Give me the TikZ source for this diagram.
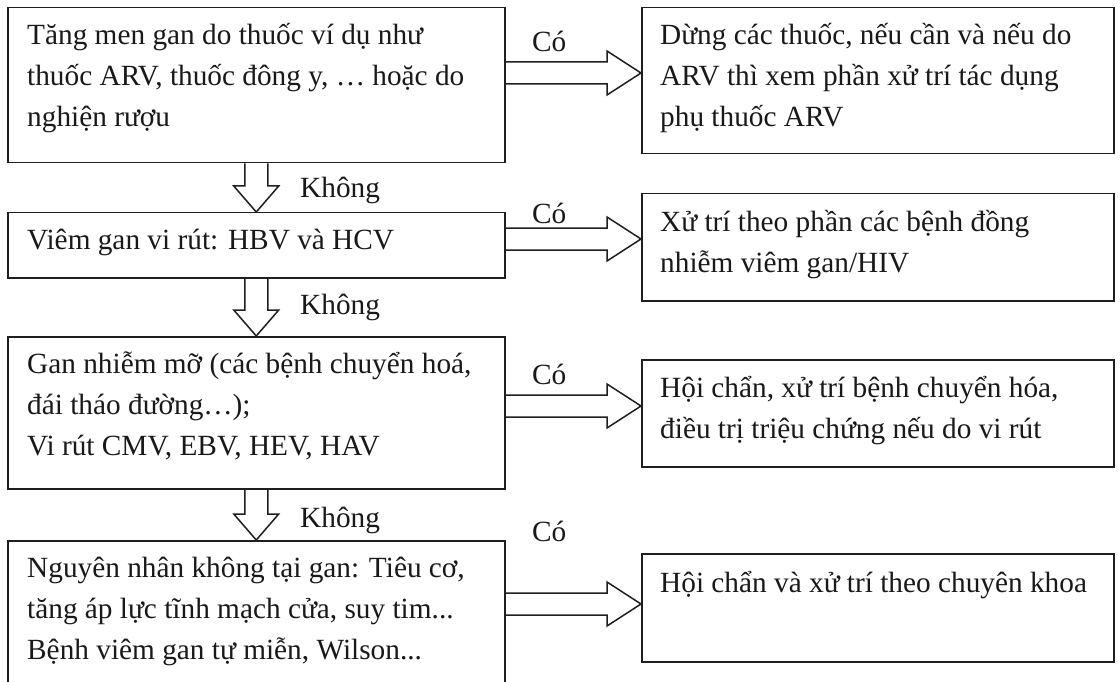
\documentclass[tikz,border=0pt]{standalone}
\usepackage{fontspec}
\setmainfont{Liberation Serif}
\usetikzlibrary{calc}
\newcommand\harr[2]{\draw[blk] ($(#1)+(0,-11)$) -- ($(#2)+(-34,-11)$) -- ($(#2)+(-34,-22)$) -- (#2) -- ($(#2)+(-34,22)$) -- ($(#2)+(-34,11)$) -- ($(#1)+(0,11)$);}
\newcommand\varr[2]{\draw[blk] ($(#1)+(-11.5,0)$) -- ($(#2)+(-11.5,-26)$) -- ($(#2)+(-22.5,-26)$) -- (#2) -- ($(#2)+(22.5,-26)$) -- ($(#2)+(11.5,-26)$) -- ($(#1)+(11.5,0)$);}
\newcommand\lines[1]{\parbox[t]{480pt}{#1}}
\begin{document}
\begin{tikzpicture}[x=1pt,y=-1pt,
  box/.style={draw=black!88, line width=1.5pt, inner sep=0pt, anchor=north west},
  txt/.style={inner sep=0pt, anchor=base west, font=\fontsize{29.3}{41}\selectfont, text=black!90},
  lbl/.style={inner sep=0pt, anchor=base west, font=\fontsize{29.3}{41}\selectfont, text=black!90},
  blk/.style={draw=black!88, line width=1.5pt, line join=miter}]
\useasboundingbox[fill=white] (0,0) rectangle (1120,682);
\clip (0,0) rectangle (1120,682);
% left boxes
\node[box, minimum width=497pt, minimum height=155pt] (b1) at (7,7) {};
\node[box, minimum width=497pt, minimum height=65pt] (b2) at (7,212) {};
\node[box, minimum width=497pt, minimum height=152pt] (b3) at (7,336) {};
\node[box, minimum width=497pt, minimum height=175pt] (b4) at (7,540) {};
% right boxes
\node[box, minimum width=472pt, minimum height=146pt] (r1) at (641,7) {};
\node[box, minimum width=472pt, minimum height=107pt] (r2) at (641,193) {};
\node[box, minimum width=472pt, minimum height=107pt] (r3) at (641,359) {};
\node[box, minimum width=472pt, minimum height=108pt] (r4) at (641,553) {};
% texts
\node[txt] (t1) at (27,45) {\lines{Tăng men gan do thuốc ví dụ như\\thuốc ARV, thuốc đông y, … hoặc do\\nghiện rượu}};
\node[txt] (t2) at (27,249) {\lines{Viêm gan vi rút: HBV và HCV}};
\node[txt] (t3) at (27,373) {\lines{Gan nhiễm mỡ (các bệnh chuyển hoá,\\đái tháo đường…);\\Vi rút CMV, EBV, HEV, HAV}};
\node[txt] (t4) at (27,577) {\lines{Nguyên nhân không tại gan: Tiêu cơ,\\tăng áp lực tĩnh mạch cửa, suy tim...\\Bệnh viêm gan tự miễn, Wilson...}};
\node[txt] (u1) at (660,45) {\lines{Dừng các thuốc, nếu cần và nếu do\\ARV thì xem phần xử trí tác dụng\\phụ thuốc ARV}};
\node[txt] (u2) at (660,232) {\lines{Xử trí theo phần các bệnh đồng\\nhiễm viêm gan/HIV}};
\node[txt] (u3) at (660,397) {\lines{Hội chẩn, xử trí bệnh chuyển hóa,\\điều trị triệu chứng nếu do vi rút}};
\node[txt] (u4) at (660,592) {\lines{Hội chẩn và xử trí theo chuyên khoa}};
% arrow end points
\coordinate (h1s) at (b1.east |- 0,73);  \coordinate (h1t) at (r1.west |- 0,73);
\coordinate (h2s) at (b2.east |- 0,239); \coordinate (h2t) at (r2.west |- 0,239);
\coordinate (h3s) at (b3.east |- 0,406); \coordinate (h3t) at (r3.west |- 0,406);
\coordinate (h4s) at (b4.east |- 0,604); \coordinate (h4t) at (r4.west |- 0,604);
\harr{h1s}{h1t}
\harr{h2s}{h2t}
\harr{h3s}{h3t}
\harr{h4s}{h4t}
\varr{b1.south}{b2.north}
\varr{b2.south}{b3.north}
\varr{b3.south}{b4.north}
% labels
\node[lbl] (c1) at (532,52) {Có};
\node[lbl] (c2) at (532,224) {Có};
\node[lbl] (c3) at (532,384) {Có};
\node[lbl] (c4) at (532,541) {Có};
\node[lbl] (k1) at (300,197) {Không};
\node[lbl] (k2) at (300,314) {Không};
\node[lbl] (k3) at (300,527) {Không};
\end{tikzpicture}
\end{document}
